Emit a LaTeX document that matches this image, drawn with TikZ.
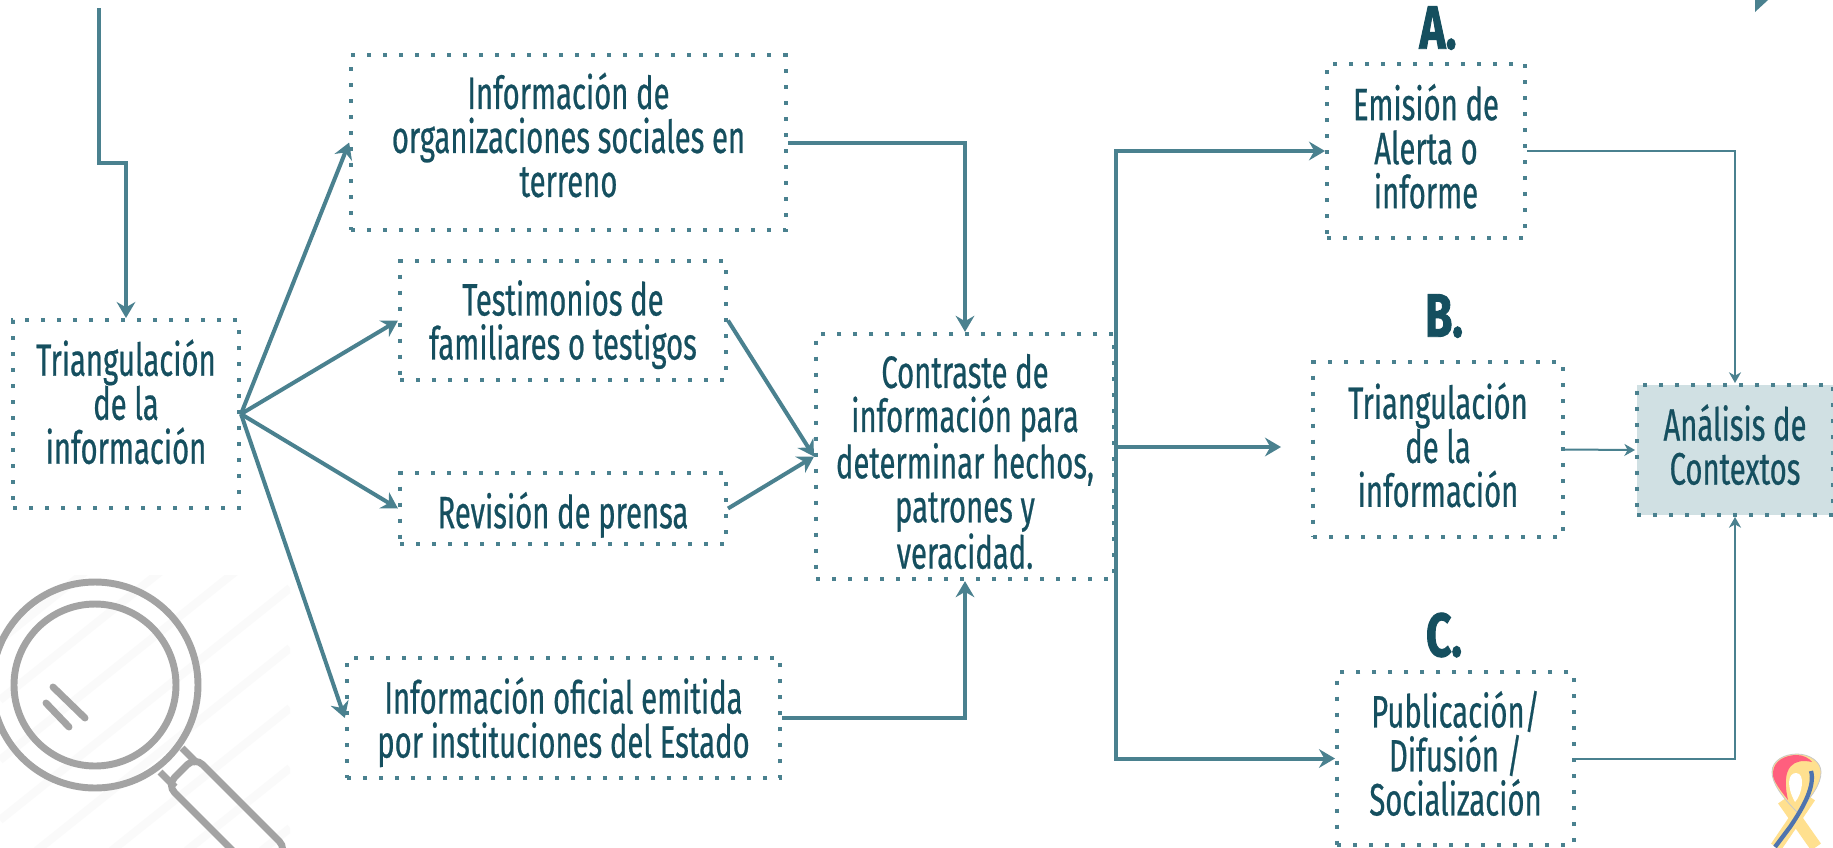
\documentclass[tikz,border=0pt]{standalone}
\usepackage{fontspec}
\setmainfont[FakeStretch=0.645,FakeBold=0.5]{Fira Sans}
\newfontfamily\headfont[FakeStretch=0.72,FakeBold=1.5]{Fira Sans}
\usetikzlibrary{arrows.meta}
\definecolor{flowteal}{HTML}{4A818F}
\definecolor{inkteal}{HTML}{154F5F}
\definecolor{paleteal}{HTML}{D0E0E3}
\definecolor{lensgray}{HTML}{A3A3A3}
\definecolor{stripegray}{HTML}{FAFAFA}
\definecolor{ribbonpink}{HTML}{FF5F7E}
\definecolor{ribbonyellow}{HTML}{FFE08F}
\definecolor{ribbonblue}{HTML}{4F74AE}
\newcommand{\boxtext}[2]{\makebox[0pt]{\raisebox{#1}[0pt][0pt]{\parbox{400pt}{\centering #2}}}}
\tikzset{
  infobox/.style={draw=flowteal,line width=3pt,dash pattern=on 3pt off 9pt,
    inner sep=0pt,text=inkteal,font=\fontsize{34}{33}\selectfont},
  flow/.style={draw=flowteal,line width=3pt,-{Stealth[length=12pt,width=14pt,inset=4pt]}},
  thinflow/.style={draw=flowteal,line width=1.5pt,-{Stealth[length=8pt,width=9pt,inset=2.5pt]}},
  headlabel/.style={text=inkteal,font=\fontsize{46}{46}\selectfont\headfont\bfseries},
  lensline/.style={draw=lensgray,line width=5.2pt}
}
\begin{document}
\begin{tikzpicture}[x=0.75pt,y=-0.75pt]
\useasboundingbox (0,0) rectangle (1833,847);
\fill[white] (0,0) rectangle (1833,847);

% magnifier
\begin{scope}
\clip (0,575) rectangle (290,847);
\foreach \s in {640,700,760,820,880,940,1000,1060}
  \draw[stripegray,line width=6pt] (0,\s) -- (290,\s-232);
\end{scope}
\begin{scope}
\clip (0,0) rectangle (1833,847);
\draw[lensline] (95,685) circle (103);
\draw[lensline] (95,685) circle (81);
\draw[lensline,line cap=round] (53,687) -- (85,718);
\draw[lensline,line cap=round] (46,703) -- (69,727);
\draw[lensline] (182,748) -- (197,763);
\draw[lensline] (160,772) -- (175,787);
\draw[lensline,rounded corners=8pt] (195,757) -- (167,785) -- (259,877) -- (287,849) -- cycle;
\end{scope}

% corner mark
\fill[flowteal] (1755,0) -- (1755,12) -- (1768,0) -- cycle;

% ribbon
\begin{scope}
\clip (0,0) rectangle (1833,847);
\draw[ribbonyellow,line width=9pt] (1783,800) -- (1816,847);
\draw[ribbonyellow,line width=9pt] (1810,797) -- (1776,847);
\fill[ribbonyellow,draw=lensgray!60,line width=0.6pt] (1797,812) .. controls (1780,795) and (1772,782) .. (1772,772)
  .. controls (1772,760) and (1785,754) .. (1797,754) .. controls (1810,754) and (1821,762) .. (1821,772)
  .. controls (1821,784) and (1812,797) .. (1797,812) -- cycle;
\fill[ribbonpink] (1788,800) .. controls (1776,785) and (1772,778) .. (1773,772)
  .. controls (1774,760) and (1786,755) .. (1797,755) .. controls (1803,755) and (1809,758) .. (1812,762)
  .. controls (1795,758) and (1780,765) .. (1788,800) -- cycle;
\fill[white] (1796,773) .. controls (1788,773) and (1786,786) .. (1795,802) .. controls (1802,795) and (1806,773) .. (1796,773) -- cycle;
\draw[ribbonblue,line width=3.2pt] (1811,771) .. controls (1815,785) and (1805,805) .. (1790,827) -- (1775,847);
\end{scope}

% boxes
\node[infobox,minimum width=169.5pt,minimum height=141pt] (tri) at (126,414) {\boxtext{2.9pt}{Triangulación\\de la\\información}};
\node[infobox,minimum width=326pt,minimum height=131pt] (org) at (568.5,142.5) {\boxtext{-0.6pt}{Información de\\organizaciones sociales en\\terreno}};
\node[infobox,minimum width=244.5pt,minimum height=89pt] (tes) at (563,320.5) {\boxtext{-9.3pt}{Testimonios de\\familiares o testigos}};
\node[infobox,minimum width=244.5pt,minimum height=53pt] (pre) at (563,508.5) {\boxtext{-11pt}{Revisión de prensa}};
\node[infobox,minimum width=325pt,minimum height=90pt] (ofi) at (563.5,718) {\boxtext{-9.4pt}{Información oficial emitida\\por instituciones del Estado}};
\node[infobox,minimum width=223.5pt,minimum height=184pt] (con) at (965,456.5) {\boxtext{-10pt}{Contraste de\\información para\\determinar hechos,\\patrones y\\veracidad.}};
\node[infobox,minimum width=148.5pt,minimum height=130.5pt] (emi) at (1426,151) {\boxtext{-2.7pt}{Emisión de\\Alerta o\\informe}};
\node[infobox,minimum width=187.5pt,minimum height=131pt] (trb) at (1438,449.5) {\boxtext{-2.8pt}{Triangulación\\de la\\información}};
\node[infobox,minimum width=147pt,minimum height=97.5pt,fill=paleteal] (ana) at (1735,450) {\boxtext{-2.2pt}{Análisis de\\Contextos}};
\node[infobox,minimum width=177.75pt,minimum height=130pt] (pub) at (1455.5,758.5) {\boxtext{-2.4pt}{Publicación/\\Difusión /\\Socialización}};

% letters
\node[headlabel] (la) at (1438,28) {A.};
\node[headlabel] (lb) at (1444,316) {B.};
\node[headlabel] (lc) at (1444,635) {C.};

% entry arrow
\coordinate (entry) at (99,8);
\coordinate (elbow) at (99,163);
\draw[flow] (entry) -- (elbow) -| (tri.north);

% fan
\draw[flow] (tri.east) -- (org.west);
\draw[flow] (tri.east) -- (tes.west);
\draw[flow] (tri.east) -- (pre.west);
\draw[flow] (tri.east) -- (ofi.west);

% into contrast box
\draw[flow] (org.east) -| (con.north);
\draw[flow] (tes.east) -- (con.west);
\draw[flow] (pre.east) -- (con.west);
\draw[flow] (ofi.east) -| (con.south);

% outputs
\coordinate (trunk) at (1116,447);
\coordinate (btip) at (1281,447);
\draw[flow] (trunk) |- (emi.west);
\draw[flow] (trunk) -- (btip);
\draw[flow] (trunk) |- (pub.west);

% into context box
\draw[thinflow] (emi.east) -| (ana.north);
\draw[thinflow] (trb.east) -- (ana.west);
\draw[thinflow] (pub.east) -| (ana.south);
\end{tikzpicture}
\end{document}
